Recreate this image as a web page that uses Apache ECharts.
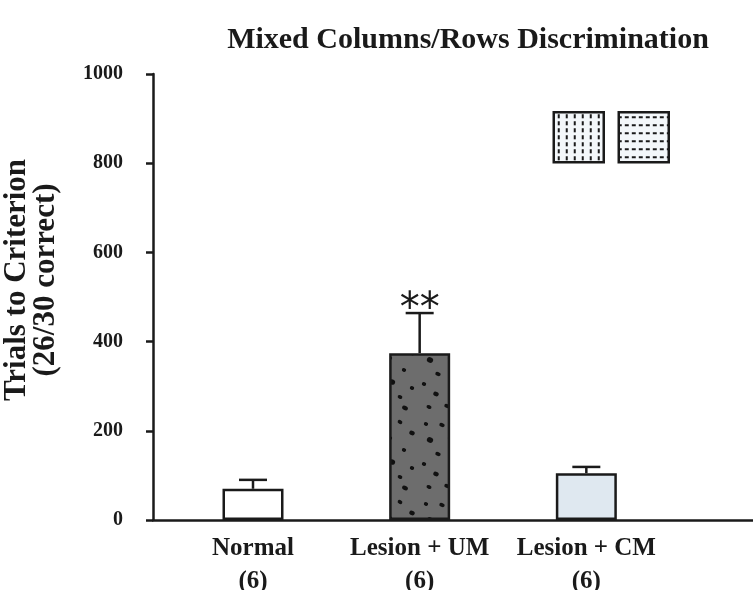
<!DOCTYPE html>
<html>
<head>
<meta charset="utf-8">
<title>Mixed Columns/Rows Discrimination</title>
<script src="https://cdn.jsdelivr.net/npm/echarts@6/dist/echarts.min.js"></script>
<style>
  html, body { margin: 0; padding: 0; background: #ffffff; }
  #chart { width: 753px; height: 590px; }
</style>
</head>
<body>
<div id="chart"></div>
<script>
// Groups, group sizes and trial counts
const categories = ['Normal', 'Lesion + UM', 'Lesion + CM'];
const groupSizes = ['(6)', '(6)', '(6)'];
const meanTrials = [70, 374, 105];
const semTrials = [20, 90, 14];
const significance = ['', '**', ''];
const yTickLabels = [0, 200, 400, 600, 800, 1000];

const SERIF = '"Liberation Serif", "DejaVu Serif", serif';

// Texture helpers
function makeCanvas(w, h, bg) {
  const c = document.createElement('canvas');
  c.width = w; c.height = h;
  const ctx = c.getContext('2d');
  ctx.fillStyle = bg;
  ctx.fillRect(0, 0, w, h);
  return { c, ctx };
}

// dark grey with scattered black specks
function speckledTexture() {
  const { c, ctx } = makeCanvas(60, 80, '#6d6d6d');
  const dots = [
    [9, 7, 2.6, 1.8], [27, 6, 2.8, 2.0], [45, 8, 3.0, 2.2],
    [6, 24, 2.2, 1.8], [22, 25, 2.8, 2.0], [40, 22, 2.4, 2.0], [52, 33, 2.8, 2.2],
    [10, 40, 3.2, 2.8], [30, 38, 2.2, 1.8], [44, 50, 2.2, 1.8], [18, 54, 2.8, 2.0],
    [4, 64, 2.2, 2.0], [32, 62, 3.2, 2.6], [52, 68, 2.2, 2.0], [16, 74, 2.8, 2.2],
    [40, 77, 2.4, 1.8]
  ];
  ctx.fillStyle = '#111111';
  dots.forEach(([x, y, rx, ry]) => {
    ctx.beginPath();
    ctx.ellipse(x, y, rx, ry, 0.4, 0, Math.PI * 2);
    ctx.fill();
  });
  return c;
}

// columns of short dots
function columnsTexture() {
  const { c, ctx } = makeCanvas(8, 7, '#f3f7fa');
  ctx.fillStyle = '#1a1a1a';
  ctx.fillRect(4, 2, 2, 4);
  return c;
}

// rows of short dashes
function rowsTexture() {
  const { c, ctx } = makeCanvas(7, 8, '#f3f7fa');
  ctx.fillStyle = '#1a1a1a';
  ctx.fillRect(1, 4, 4, 2);
  return c;
}

const barFills = [
  '#ffffff',
  { image: speckledTexture(), repeat: 'repeat' },
  '#dfe8f0'
];

const barData = meanTrials.map((v, i) => ({
  value: [i, v],
  itemStyle: { color: barFills[i] }
}));

const errData = meanTrials.map((v, i) => [i, v, v + semTrials[i]]);

const chart = echarts.init(document.getElementById('chart'), null, { renderer: 'canvas' });

chart.setOption({
  animation: false,
  backgroundColor: '#ffffff',
  title: {
    text: 'Mixed Columns/Rows Discrimination',
    left: 463,
    textAlign: 'center',
    top: 20,
    textStyle: { fontFamily: SERIF, fontWeight: 'bold', fontSize: 30, color: '#1a1a1a' }
  },
  grid: { left: 153, right: 0, top: 74, bottom: 70, containLabel: false, outerBoundsMode: 'none' },
  xAxis: {
    type: 'value',
    min: -0.6,
    max: 3.0,
    splitLine: { show: false },
    axisTick: { show: false },
    axisLine: { show: true, onZero: false, lineStyle: { color: '#1a1a1a', width: 2.5 } },
    axisLabel: {
      customValues: [0, 1, 2],
      formatter: (v) => categories[v] + '\n' + groupSizes[v],
      fontFamily: SERIF,
      fontWeight: 'bold',
      fontSize: 25,
      lineHeight: 33,
      color: '#1a1a1a',
      margin: 12
    }
  },
  yAxis: {
    type: 'value',
    min: yTickLabels[0],
    max: yTickLabels[yTickLabels.length - 1],
    interval: 200,
    name: 'Trials to Criterion\n(26/30 correct)',
    nameLocation: 'middle',
    nameRotate: 90,
    nameGap: 93,
    nameTextStyle: {
      fontFamily: SERIF, fontWeight: 'bold', fontSize: 31, lineHeight: 29, color: '#1a1a1a',
      padding: [0, 0, 0, 34]
    },
    splitLine: { show: false },
    axisLine: { show: true, onZero: false, lineStyle: { color: '#1a1a1a', width: 2.5 } },
    axisTick: { show: true, length: 7, lineStyle: { color: '#1a1a1a', width: 2.5 } },
    axisLabel: {
      formatter: (v) => String(v),
      fontFamily: SERIF,
      fontWeight: 'bold',
      fontSize: 20,
      color: '#1a1a1a',
      margin: 30
    }
  },
  graphic: [
    {
      type: 'group',
      right: 83,
      top: 111,
      children: [
        {
          type: 'rect',
          shape: { x: 0, y: 0, width: 50, height: 50 },
          style: { fill: { image: columnsTexture(), repeat: 'repeat' }, stroke: '#1a1a1a', lineWidth: 2.5 }
        },
        {
          type: 'rect',
          shape: { x: 65, y: 0, width: 50, height: 50 },
          style: { fill: { image: rowsTexture(), repeat: 'repeat' }, stroke: '#1a1a1a', lineWidth: 2.5 }
        }
      ]
    }
  ],
  series: [
    {
      type: 'bar',
      data: barData,
      barWidth: 61,
      itemStyle: { borderColor: '#1a1a1a', borderWidth: 2.5 },
      z: 2
    },
    {
      type: 'custom',
      data: errData,
      z: 3,
      renderItem: (params, api) => {
        const x = api.value(0);
        const base = api.coord([x, api.value(1)]);
        const top = api.coord([x, api.value(2)]);
        const half = 14;
        const children = [
          { type: 'line', shape: { x1: base[0], y1: base[1], x2: top[0], y2: top[1] },
            style: { stroke: '#1a1a1a', lineWidth: 2.5 } },
          { type: 'line', shape: { x1: top[0] - half, y1: top[1], x2: top[0] + half, y2: top[1] },
            style: { stroke: '#1a1a1a', lineWidth: 2.5 } }
        ];
        const mark = significance[params.dataIndex];
        if (mark) {
          children.push({
            type: 'text',
            x: top[0],
            y: top[1] - 2,
            style: {
              text: mark,
              fontFamily: '"DejaVu Sans", sans-serif',
              fontWeight: 'normal',
              fontSize: 40,
              fill: '#1a1a1a',
              align: 'center',
              verticalAlign: 'middle'
            }
          });
        }
        return { type: 'group', children };
      }
    }
  ]
});
</script>
</body>
</html>
